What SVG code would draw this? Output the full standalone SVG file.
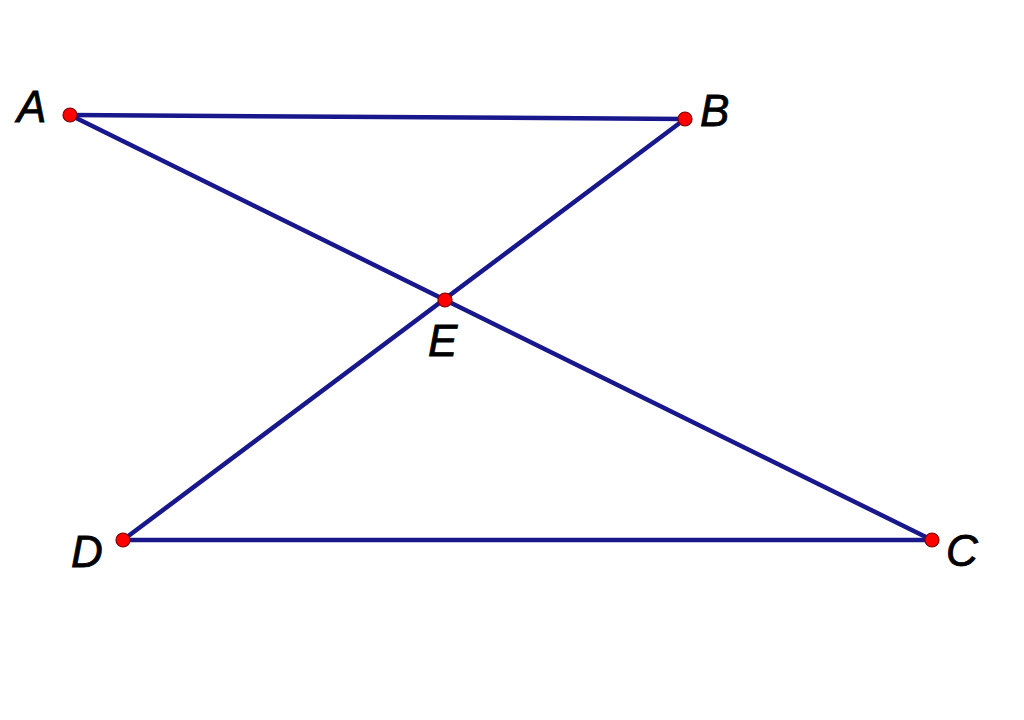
<svg xmlns="http://www.w3.org/2000/svg" width="1024" height="720" viewBox="0 0 1024 720">
<style>
.seg{stroke:#18188c;stroke-width:4.5;stroke-linecap:round;fill:none}
.pt{fill:#f00;stroke:#7a0000;stroke-width:1.2}
.lbl{font-family:"Liberation Sans",Arial,sans-serif;font-style:italic;font-size:44px;fill:#000;stroke:#000;stroke-width:0.8}
</style>
<rect width="1024" height="720" fill="#fff"/>
<g id="connectors">
<line class="seg" x1="70" y1="115" x2="685" y2="119"/>
<line class="seg" x1="70" y1="115" x2="932" y2="540"/>
<line class="seg" x1="685" y1="119" x2="123" y2="540"/>
<line class="seg" x1="123" y1="540" x2="932" y2="540"/>
</g>
<g id="A"><circle class="pt" cx="70" cy="115" r="7"/><text class="lbl" x="17" y="122">A</text></g>
<g id="B"><circle class="pt" cx="685" cy="119" r="7"/><text class="lbl" x="700" y="126">B</text></g>
<g id="E"><circle class="pt" cx="445" cy="300" r="7"/><text class="lbl" x="428" y="356">E</text></g>
<g id="D"><circle class="pt" cx="123" cy="540" r="7"/><text class="lbl" x="71" y="567">D</text></g>
<g id="C"><circle class="pt" cx="932" cy="540" r="7"/><text class="lbl" x="946" y="566">C</text></g>
</svg>
